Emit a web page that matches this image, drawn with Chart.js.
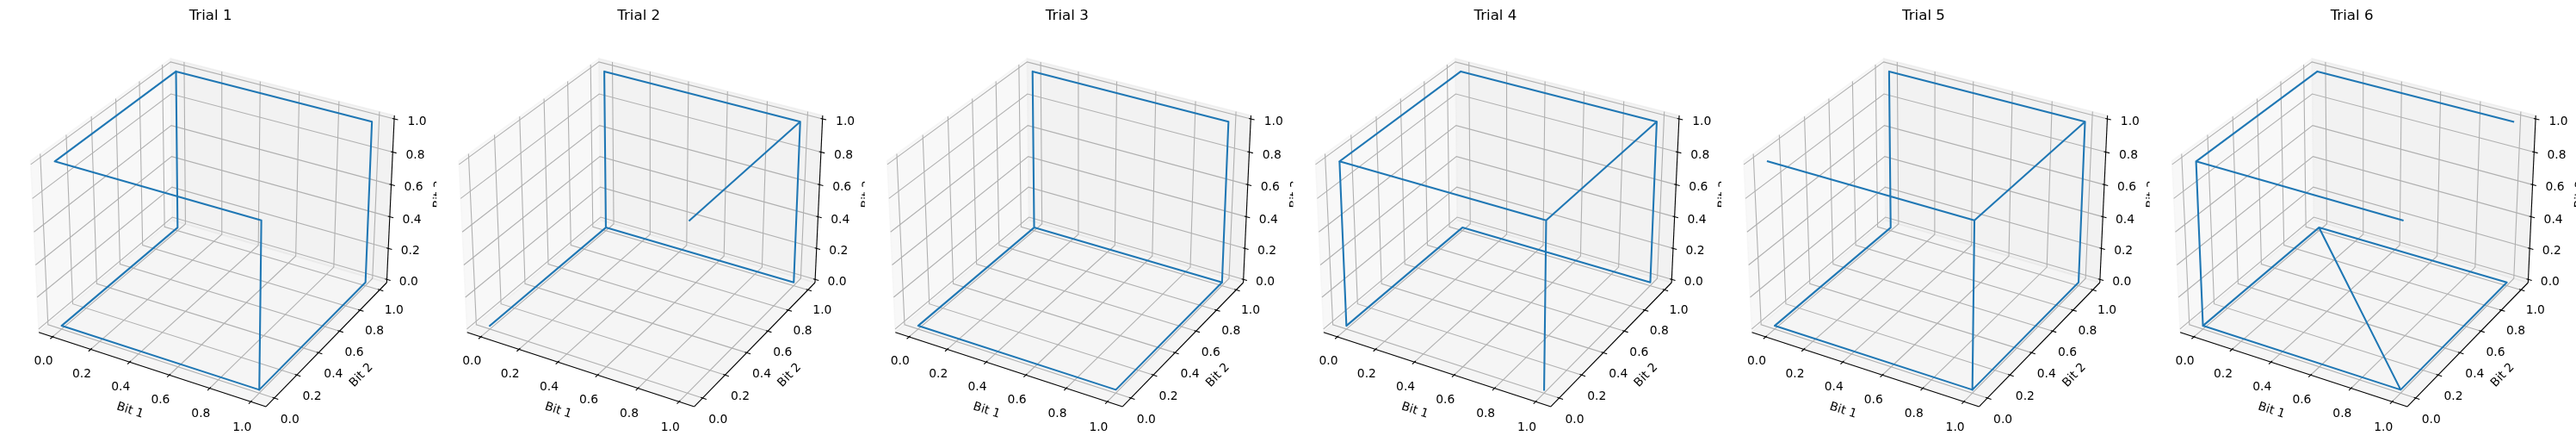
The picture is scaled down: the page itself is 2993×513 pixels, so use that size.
<!DOCTYPE html>
<html>
<head>
<meta charset="utf-8">
<script src="https://cdn.jsdelivr.net/npm/chart.js@4.4.1/dist/chart.umd.min.js"></script>
<style>
  html, body { margin: 0; padding: 0; background: #fff; }
  #figure { position: relative; width: 2993px; height: 513px; overflow: hidden; background: #fff; }
  #figure canvas { position: absolute; top: 0; }
</style>
</head>
<body>
<div id="figure"></div>
<script>
// walks over the corners of the 3-bit cube, one array per bit
const trialNames = ["Trial 1", "Trial 2", "Trial 3", "Trial 4", "Trial 5", "Trial 6"];
const axisNames = ["Bit 1", "Bit 2", "Bit 3"];
const tickValues = [0, 0.2, 0.4, 0.6, 0.8, 1.0];
const tickLabels = ["0.0", "0.2", "0.4", "0.6", "0.8", "1.0"];

const trial1Bit1 = [0, 1, 1, 1, 0, 0, 0, 0, 1, 1];
const trial1Bit2 = [1, 1, 1, 0, 0, 1, 1, 0, 0, 0];
const trial1Bit3 = [1, 1, 0, 0, 0, 0, 1, 1, 1, 0];

const trial2Bit1 = [0, 0, 0, 1, 1, 0, 0, 1, 1];
const trial2Bit2 = [0, 1, 1, 1, 1, 1, 1, 1, 0];
const trial2Bit3 = [0, 0, 1, 1, 0, 0, 1, 1, 1];

const trial3Bit1 = [0, 0, 1, 1, 1, 0, 0, 1];
const trial3Bit2 = [1, 1, 1, 1, 0, 0, 1, 1];
const trial3Bit3 = [0, 1, 1, 0, 0, 0, 0, 0];

const trial4Bit1 = [0, 0, 1, 1, 0, 0, 0, 1, 1, 1, 1];
const trial4Bit2 = [0, 1, 1, 1, 1, 0, 0, 0, 1, 0, 0];
const trial4Bit3 = [1, 1, 1, 0, 0, 0, 1, 1, 1, 1, 0];

const trial5Bit1 = [0, 1, 1, 0, 0, 0, 1, 1, 1, 1, 1];
const trial5Bit2 = [0, 0, 1, 1, 1, 0, 0, 1, 1, 0, 0];
const trial5Bit3 = [1, 1, 1, 1, 0, 0, 0, 0, 1, 1, 0];

const trial6Bit1 = [1, 0, 0, 0, 0, 1, 1, 0, 1, 0, 0, 1];
const trial6Bit2 = [1, 1, 0, 0, 1, 1, 0, 1, 0, 0, 0, 0];
const trial6Bit3 = [1, 1, 1, 0, 0, 0, 0, 0, 0, 0, 1, 1];

const trials = [
  [trial1Bit1, trial1Bit2, trial1Bit3],
  [trial2Bit1, trial2Bit2, trial2Bit3],
  [trial3Bit1, trial3Bit2, trial3Bit3],
  [trial4Bit1, trial4Bit2, trial4Bit3],
  [trial5Bit1, trial5Bit2, trial5Bit3],
  [trial6Bit1, trial6Bit2, trial6Bit3],
];

// view, like a default matplotlib 3d axes
const ELEV = 30, AZIM = -60, DIST = 10;
const BOX = [4, 4, 3];
const LIMS = [[-0.05, 1.05], [-0.05, 1.05], [0, 1]];
const VIEW = [-0.095, 0.09];
const DPI = 100;

// layout of the figure
const FIG_H = 513;
const AX_SIZE = 470, AX_TOP = 31.6, AX_LEFT0 = 9.6, AX_PITCH = 497.6;
const PAD_L = 12, PAD_R = 48;

const PANE_COLORS = ["rgba(242,242,242,0.5)", "rgba(230,230,230,0.5)", "rgba(236,236,236,0.5)"];
const GRID_COLOR = "#b0b0b0";
const LINE_COLOR = "#1f77b4";
const FONT = '"DejaVu Sans", sans-serif';
const TICK_FONT = 10 * DPI / 72;
const TITLE_FONT = 12 * DPI / 72;

// camera axes
const dot = (a, b) => a[0] * b[0] + a[1] * b[1] + a[2] * b[2];
const cross = (a, b) => [a[1] * b[2] - a[2] * b[1], a[2] * b[0] - a[0] * b[2], a[0] * b[1] - a[1] * b[0]];
const el = ELEV * Math.PI / 180, az = AZIM * Math.PI / 180;
const W = [Math.cos(el) * Math.cos(az), Math.cos(el) * Math.sin(az), Math.sin(el)];
let U = cross([0, 0, 1], W);
const un = Math.hypot(...U);
U = U.map(v => v / un);
const V = cross(W, U);
const bn = Math.hypot(...BOX);
const ASPECT = BOX.map(b => b * 1.8294640721620434 / bn);

function project(p) {
  const d = p.map((v, i) => ((v - LIMS[i][0]) / (LIMS[i][1] - LIMS[i][0]) - 0.5) * ASPECT[i]);
  const f = DIST - dot(W, d);
  return { x: dot(U, d) / f, y: dot(V, d) / f };
}

// pane bounds
const DELTAS = LIMS.map(l => (l[1] - l[0]) / 12);
const MINS = LIMS.map((l, i) => l[0] - DELTAS[i] / 4);
const MAXS = LIMS.map((l, i) => l[1] + DELTAS[i] / 4);
const CENTERS = MINS.map((m, i) => (m + MAXS[i]) / 2);
const HIGHS = W.map(w => w < 0);
const BACK = HIGHS.map((h, i) => h ? MAXS[i] : MINS[i]);
const FRONT = HIGHS.map((h, i) => h ? MINS[i] : MAXS[i]);
const AXINFO = [
  { tickdir: 1, juggled: [1, 0, 2] },
  { tickdir: 0, juggled: [0, 1, 2] },
  { tickdir: 0, juggled: [0, 2, 1] },
];

function edgePoints(i) {
  const j = AXINFO[i].juggled;
  const p1 = BACK.slice();
  p1[j[0]] = FRONT[j[0]];
  const p2 = p1.slice();
  p2[j[1]] = FRONT[j[1]];
  return [p1, p2];
}

function moveFromCenter(p, amounts, skip) {
  return p.map((v, n) => n === skip ? v : v + (v - CENTERS[n] >= 0 ? 1 : -1) * amounts[n]);
}

function lineSet(points, style) {
  return Object.assign({
    data: points.map(project),
    pointRadius: 0,
    fill: false,
    clip: false,
    tension: 0,
    borderWidth: 1.1,
  }, style);
}

function frameDatasets() {
  const sets = [];
  // panes
  for (let i = 0; i < 3; i++) {
    const j = (i + 1) % 3, k = (i + 2) % 3;
    const corner = (a, b) => { const p = [0, 0, 0]; p[i] = BACK[i]; p[j] = a; p[k] = b; return p; };
    sets.push(lineSet([
      corner(MINS[j], MINS[k]), corner(MAXS[j], MINS[k]),
      corner(MAXS[j], MAXS[k]), corner(MINS[j], MAXS[k]), corner(MINS[j], MINS[k])
    ], { borderColor: PANE_COLORS[i], backgroundColor: PANE_COLORS[i], borderWidth: 1.39, fill: 'shape', order: 5 }));
  }
  // grid lines
  for (let i = 0; i < 3; i++) {
    tickValues.forEach(t => {
      const mid = BACK.slice();
      mid[i] = t;
      const a = mid.slice(); a[(i + 1) % 3] = FRONT[(i + 1) % 3];
      const c = mid.slice(); c[(i + 2) % 3] = FRONT[(i + 2) % 3];
      sets.push(lineSet([a, mid, c], { borderColor: GRID_COLOR, borderWidth: 1.1, order: 4 }));
    });
  }
  // axis lines and ticks
  for (let i = 0; i < 3; i++) {
    const [e1, e2] = edgePoints(i);
    sets.push(lineSet([e1, e2], { borderColor: "#000", borderWidth: 1.1, order: 3 }));
    const td = AXINFO[i].tickdir;
    const sign = HIGHS[td] ? 1 : -1;
    tickValues.forEach(t => {
      const p = e1.slice(); p[i] = t;
      const q = p.slice();
      p[td] = e1[td] + 0.1 * sign * DELTAS[td];
      q[td] = e1[td] - 0.2 * sign * DELTAS[td];
      sets.push(lineSet([p, q], { borderColor: "#000", borderWidth: 1.1, order: 2 }));
    });
  }
  return sets;
}

function textPlugin(title) {
  return {
    id: 'axesText',
    beforeDraw(chart) {
      const { ctx, chartArea: a } = chart;
      ctx.save();
      ctx.fillStyle = '#fff';
      ctx.fillRect(a.left, a.top, a.right - a.left, a.bottom - a.top);
      ctx.restore();
    },
    afterDraw(chart) {
      const { ctx, chartArea: a, scales } = chart;
      const toPx = p => {
        const q = project(p);
        return [scales.x.getPixelForValue(q.x), scales.y.getPixelForValue(q.y)];
      };
      const axPoints = 72 * ((a.right - a.left) + (a.bottom - a.top)) / DPI;
      const dpp = 48 / axPoints;
      ctx.save();
      ctx.fillStyle = '#000';
      ctx.textAlign = 'center';
      ctx.textBaseline = 'alphabetic';
      ctx.font = TICK_FONT + 'px ' + FONT;
      for (let i = 0; i < 3; i++) {
        const [e1, e2] = edgePoints(i);
        const tickMove = DELTAS.map(d => (3.5 + 8) * dpp * d);
        tickValues.forEach((t, n) => {
          const p = e1.slice(); p[i] = t;
          const [lx, ly] = toPx(moveFromCenter(p, tickMove, i));
          ctx.fillText(tickLabels[n], lx, ly + 0.76 * TICK_FONT);
        });
        const mid = e1.map((v, n) => (v + e2[n]) / 2);
        const labelMove = DELTAS.map(d => (4 + 21) * dpp * d);
        const [cx, cy] = toPx(moveFromCenter(mid, labelMove, i));
        const [x1, y1] = toPx(e1), [x2, y2] = toPx(e2);
        let ang = Math.atan2(-(y2 - y1), x2 - x1) * 180 / Math.PI;
        ang = (ang + 180) % 180;
        if (ang > 90) ang -= 180;
        ctx.save();
        ctx.translate(cx, cy);
        ctx.rotate(-ang * Math.PI / 180);
        ctx.fillText(axisNames[i], 0, 0.262 * TICK_FONT);
        ctx.restore();
      }
      ctx.font = TITLE_FONT + 'px ' + FONT;
      ctx.fillText(title, (a.left + a.right) / 2, a.top - 6 * DPI / 72);
      ctx.restore();
    }
  };
}

const figure = document.getElementById('figure');
trials.forEach((bits, n) => {
  const axLeft = AX_LEFT0 + n * AX_PITCH;
  const left = Math.floor(axLeft) - PAD_L;
  const padLeft = axLeft - left;
  const width = Math.ceil(padLeft + AX_SIZE + PAD_R);
  const canvas = document.createElement('canvas');
  canvas.width = width;
  canvas.height = FIG_H;
  canvas.style.left = left + 'px';
  canvas.style.width = width + 'px';
  canvas.style.height = FIG_H + 'px';
  figure.appendChild(canvas);

  const path = bits[0].map((_, s) => [bits[0][s], bits[1][s], bits[2][s]]);
  const datasets = frameDatasets();
  datasets.push(lineSet(path, {
    borderColor: LINE_COLOR, borderWidth: 2.08,
    borderJoinStyle: 'round', borderCapStyle: 'square', order: 0
  }));

  new Chart(canvas, {
    type: 'line',
    data: { datasets },
    options: {
      responsive: false,
      animation: false,
      devicePixelRatio: 1,
      events: [],
      layout: {
        padding: { left: padLeft, right: width - padLeft - AX_SIZE, top: AX_TOP, bottom: FIG_H - AX_TOP - AX_SIZE }
      },
      scales: {
        x: { type: 'linear', display: false, min: VIEW[0], max: VIEW[1] },
        y: { type: 'linear', display: false, min: VIEW[0], max: VIEW[1] }
      },
      plugins: { legend: { display: false }, tooltip: { enabled: false }, title: { display: false } }
    },
    plugins: [textPlugin(trialNames[n])]
  });
});
</script>
</body>
</html>
